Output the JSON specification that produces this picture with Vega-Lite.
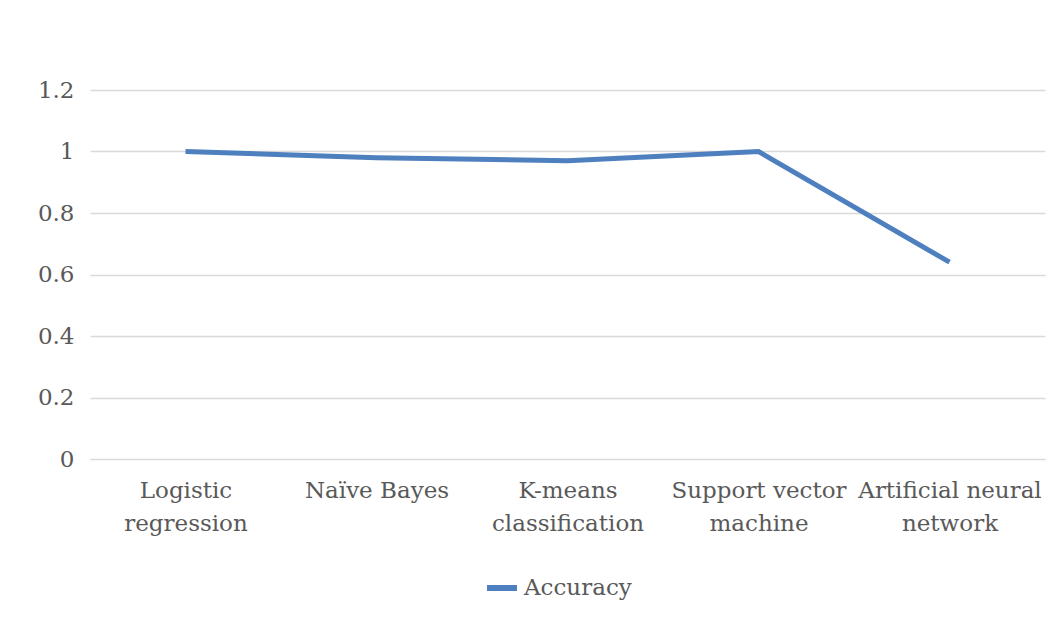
{
  "$schema": "https://vega.github.io/schema/vega-lite/v6.json",
  "width": 955,
  "height": 369,
  "autosize": {"type": "none"},
  "padding": {"left": 90, "top": 90, "right": 19, "bottom": 167},
  "background": "white",
  "config": {
    "view": {"stroke": null},
    "font": "DejaVu Serif",
    "axis": {
      "labelFont": "DejaVu Serif",
      "labelFontSize": 23,
      "labelColor": "#595959",
      "gridColor": "#d9d9d9",
      "gridWidth": 1.5
    },
    "legend": {"labelFont": "DejaVu Serif", "labelFontSize": 23, "labelColor": "#595959"}
  },
  "data": {
    "values": [
      {"model": "Logistic regression", "accuracy": 1.0, "series": "Accuracy"},
      {"model": "Naïve Bayes", "accuracy": 0.98, "series": "Accuracy"},
      {"model": "K-means classification", "accuracy": 0.97, "series": "Accuracy"},
      {"model": "Support vector machine", "accuracy": 1.0, "series": "Accuracy"},
      {"model": "Artificial neural network", "accuracy": 0.64, "series": "Accuracy"}
    ]
  },
  "mark": {"type": "line", "strokeWidth": 5, "strokeJoin": "miter"},
  "encoding": {
    "x": {
      "field": "model",
      "type": "nominal",
      "sort": null,
      "scale": {"paddingInner": 0, "paddingOuter": 0.5},
      "axis": {
        "title": null,
        "labelAngle": 0,
        "domain": false,
        "ticks": false,
        "labelPadding": 20,
        "labelLineHeight": 33,
        "labelBaseline": "top",
        "labelLimit": 300,
        "labelExpr": "datum.label == 'Logistic regression' ? ['Logistic', 'regression'] : datum.label == 'K-means classification' ? ['K-means', 'classification'] : datum.label == 'Support vector machine' ? ['Support vector', 'machine'] : datum.label == 'Artificial neural network' ? ['Artificial neural', 'network'] : datum.label"
      }
    },
    "y": {
      "field": "accuracy",
      "type": "quantitative",
      "scale": {"domain": [0, 1.2]},
      "axis": {
        "title": null,
        "values": [0, 0.2, 0.4, 0.6, 0.8, 1, 1.2],
        "format": ".1~f",
        "domain": false,
        "ticks": false,
        "labelPadding": 16
      }
    },
    "color": {
      "field": "series",
      "type": "nominal",
      "scale": {"range": ["#4e7fbf"]},
      "legend": {
        "title": null,
        "orient": "none",
        "legendX": 394,
        "legendY": 480,
        "symbolType": "stroke",
        "symbolStrokeWidth": 6,
        "symbolSize": 900,
        "labelOffset": 4
      }
    }
  }
}
